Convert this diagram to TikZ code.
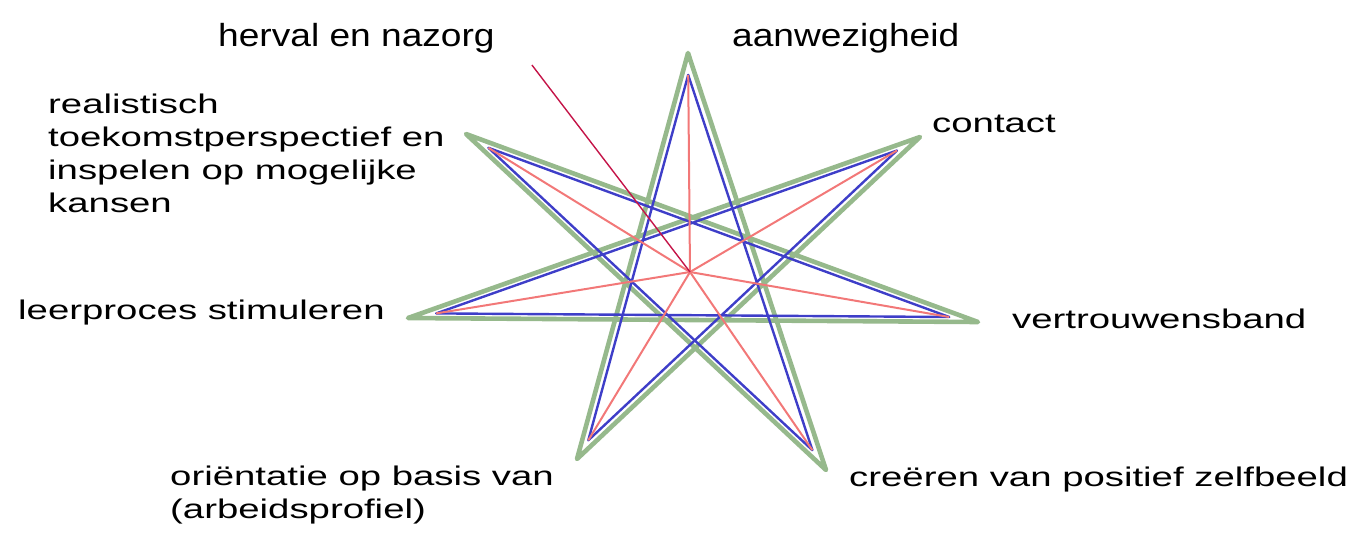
\documentclass[tikz,border=0pt]{standalone}
\usepackage{fontspec}
\setmainfont{Liberation Sans}
\newfontfamily\lblfont[FakeStretch=1.42]{Liberation Sans}
\newfontfamily\topfont[FakeStretch=1.16]{Liberation Sans}
\usetikzlibrary{calc}

\definecolor{greenline}{RGB}{150,185,140}
\definecolor{blueline}{RGB}{62,62,200}
\definecolor{redline}{RGB}{242,120,120}
\definecolor{pointerred}{RGB}{196,20,72}

\begin{document}
\begin{tikzpicture}[x=1pt, y=-1pt,
    lbl/.style={font=\lblfont\fontsize{27}{33}\selectfont, align=left,
      inner sep=0pt, anchor=base west},
    toplbl/.style={font=\topfont\fontsize{32}{38}\selectfont,
      inner sep=0pt, anchor=base west},
    outerstar/.style={draw=greenline, line width=4.6pt, line join=round},
    innerstar/.style={draw=blueline, line width=2.4pt, line join=round},
    spoke/.style={draw=redline, line width=2pt},
    pointer/.style={draw=pointerred, line width=1.4pt}
  ]
  \useasboundingbox (0,0) rectangle (1358,542);

  % star tips, clockwise from the top
  \coordinate (c) at (690,272);
  \coordinate (g0) at (688,53);
  \coordinate (g1) at (920,137);
  \coordinate (g2) at (978,322);
  \coordinate (g3) at (826,470);
  \coordinate (g4) at (577,459);
  \coordinate (g5) at (408,318);
  \coordinate (g6) at (466,134);
  \foreach \i in {0,...,6}
    \coordinate (b\i) at ($(c)!0.9!(g\i)$);

  % labels (multi-line ones sit on their last baseline)
  \node[toplbl] (herval) at (218,46) {herval en nazorg};
  \node[toplbl] (aanw) at (732,46) {aanwezigheid};
  \node[lbl] (contact) at (932,132) {contact};
  \node[lbl] (realist) at (48,212)
    {realistisch\\toekomstperspectief en\\inspelen op mogelijke\\kansen};
  \node[lbl] (leer) at (18,319) {leerproces stimuleren};
  \node[lbl] (vertr) at (1012,328) {vertrouwensband};
  \node[lbl] (orient) at (170,518) {oriëntatie op basis van\\(arbeidsprofiel)};
  \node[lbl] (creeren) at (849,486) {creëren van positief zelfbeeld};

  % star
  \draw[outerstar] (g0) -- (g3) -- (g6) -- (g2) -- (g5) -- (g1) -- (g4) -- cycle;
  \draw[innerstar] (b0) -- (b3) -- (b6) -- (b2) -- (b5) -- (b1) -- (b4) -- cycle;
  \foreach \i in {0,...,6}
    \draw[spoke] (b\i) -- (c);

  \coordinate (hv) at ($(herval.base east)+(37,19)$);
  \draw[pointer] (hv) -- (c);
\end{tikzpicture}
\end{document}
